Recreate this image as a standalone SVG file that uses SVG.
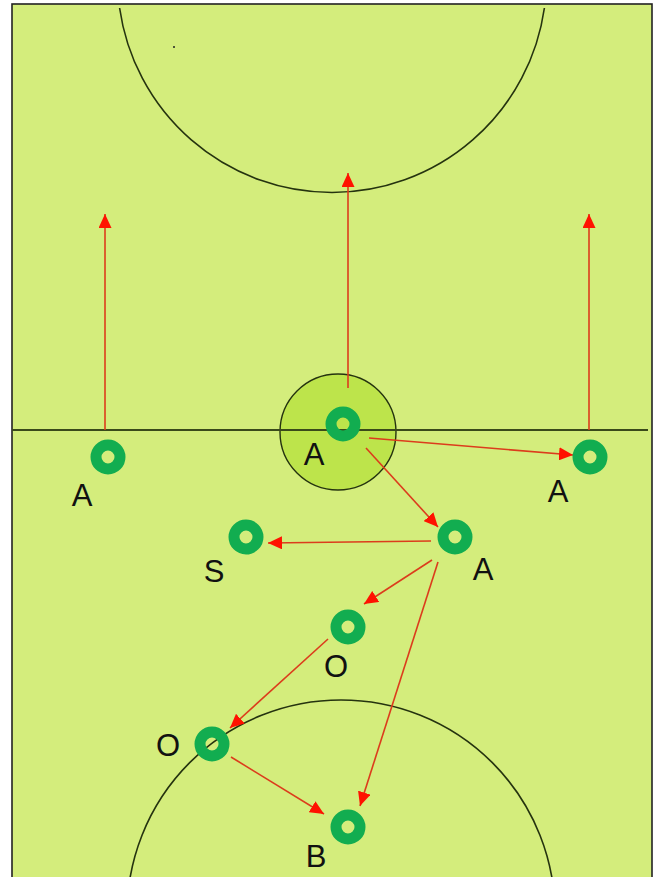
<svg xmlns="http://www.w3.org/2000/svg" width="655" height="877" viewBox="0 0 655 877">
<style>
.lbl{font-family:"Liberation Sans","Open Sans",Arial,sans-serif;font-size:31px;fill:#111;text-anchor:middle}
.ring{fill:none;stroke:#12ad50;stroke-width:11}
.arr{stroke:#dc3c1c;stroke-width:1.6;fill:none;marker-end:url(#ah)}
.mark{fill:none;stroke:#25330f;stroke-width:1.6}
</style>
<defs>
<marker id="ah" markerUnits="userSpaceOnUse" markerWidth="15" markerHeight="13" refX="14" refY="6.5" orient="auto">
<path d="M0,0 L14,6.5 L0,13 Z" fill="#ff1200"/>
</marker>
</defs>
<rect width="655" height="877" fill="#ffffff"/>
<g id="field">
<rect x="12" y="4" width="640" height="890" fill="#d4ed7c" stroke="#222" stroke-width="1.6"/>
<path class="mark" d="M119.6,8 A214.5,214.5 0 0 0 544.4,8"/>
<circle class="mark" cx="341" cy="914" r="214"/>
<circle cx="338" cy="432" r="58" fill="#bde44b" stroke="#25330f" stroke-width="1.4"/>
<line x1="12" y1="430" x2="648" y2="430" stroke="#3a4a1a" stroke-width="2"/>
<circle cx="174" cy="47" r="1" fill="#222"/>
</g>
<g id="connectors">
<line class="arr" x1="105" y1="430" x2="105" y2="214"/>
<line class="arr" x1="348" y1="388" x2="348" y2="173"/>
<line class="arr" x1="589" y1="430" x2="589" y2="214"/>
<line class="arr" x1="369" y1="438" x2="573" y2="455"/>
<line class="arr" x1="366" y1="448" x2="438" y2="527"/>
<line class="arr" x1="431" y1="541" x2="268" y2="543"/>
<line class="arr" x1="432" y1="560" x2="364" y2="604"/>
<line class="arr" x1="438" y1="562" x2="360" y2="806"/>
<line class="arr" x1="328" y1="639" x2="230" y2="728"/>
<line class="arr" x1="231" y1="757" x2="324" y2="814"/>
</g>
<g id="node-a-left"><circle class="ring" cx="108" cy="457" r="12"/><text class="lbl" x="82" y="506">A</text></g>
<g id="node-a-center"><circle class="ring" cx="343" cy="424" r="12"/><text class="lbl" x="314" y="465">A</text></g>
<g id="node-a-right"><circle class="ring" cx="590" cy="457" r="12"/><text class="lbl" x="558" y="502">A</text></g>
<g id="node-a-mid"><circle class="ring" cx="455" cy="537" r="12"/><text class="lbl" x="483" y="580">A</text></g>
<g id="node-s"><circle class="ring" cx="246" cy="537" r="12"/><text class="lbl" x="214" y="582">S</text></g>
<g id="node-o1"><circle class="ring" cx="348" cy="627" r="12"/><text class="lbl" x="336" y="677">O</text></g>
<g id="node-o2"><circle class="ring" cx="212" cy="744" r="12"/><text class="lbl" x="168" y="756">O</text></g>
<g id="node-b"><circle class="ring" cx="348" cy="827" r="12"/><text class="lbl" x="316" y="867">B</text></g>
</svg>
